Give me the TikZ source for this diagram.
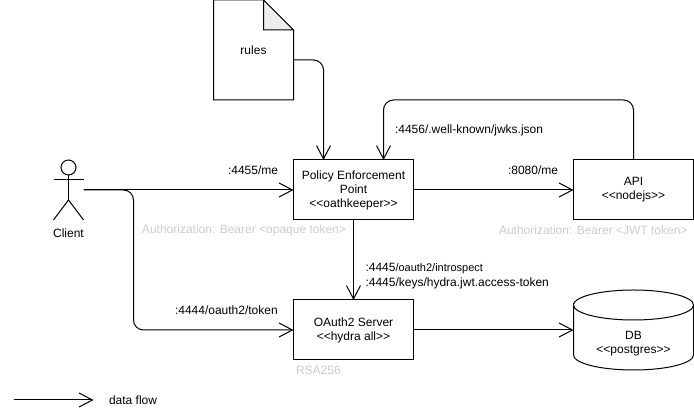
\documentclass[tikz,border=0pt]{standalone}
\usepackage{fontspec}
\setmainfont{Liberation Sans}
\usetikzlibrary{arrows.meta}
\definecolor{faint}{HTML}{CCCCCC}
\definecolor{foldfill}{HTML}{EEEEEE}
\newcommand{\stereo}[1]{<{}<#1>{}>}
\tikzset{
  every node/.style={font=\fontsize{9}{10.5}\selectfont,inner sep=0pt,outer sep=0pt},
  box/.style={draw=black,line width=.75pt,minimum width=90pt,minimum height=45pt,align=center},
  flow/.style={draw=black,line width=.75pt,rounded corners=7.5pt,-{Straight Barb[length=10pt,width=10.5pt,line width=.75pt]}},
  lbl/.style={anchor=west,text=black},
  hint/.style={anchor=west,text=faint},
  ln/.style={draw=black,line width=.75pt},
}
\begin{document}
\begin{tikzpicture}[x=.75pt,y=-.75pt]
\useasboundingbox (0,0) rectangle (694,416);
% nodes
\node[box] (pep) at (353.5,190) {Policy Enforcement\\Point\\\stereo{oathkeeper}};
\node[box] (api) at (633.5,190) {API\\\stereo{nodejs}};
\node[box] (oauth) at (353.5,330) {OAuth2 Server\\\stereo{hydra all}};
% database
\node[minimum width=90pt,minimum height=60pt] (db) at (633.5,330) {};
\draw[ln] (db.west |- 0,305) arc[x radius=45pt,y radius=11.25pt,start angle=180,end angle=0]
  arc[x radius=45pt,y radius=11.25pt,start angle=0,end angle=-180]
  -- (db.west |- 0,355) arc[x radius=45pt,y radius=11.25pt,start angle=180,end angle=360]
  -- (db.east |- 0,305);
\node (dblabel) at (633.5,344) [align=center] {DB\\\stereo{postgres}};
% document
\node[minimum width=60pt,minimum height=75pt] (rules) at (253.5,50) {rules};
\draw[ln,line join=miter] (rules.north west) -- (263.5,0) -- (rules.east |- 0,30) -- (rules.south east) -- (rules.south west) -- cycle;
\draw[ln,fill=foldfill,line join=miter] (263.5,0) -- (293.5,30) -- (263.5,30) -- cycle;
% actor
\node (client) at (68.5,233) {Client};
\node[circle,draw=black,line width=.75pt,minimum size=11.25pt] (head) at (68.5,167.5) {};
\coordinate (handL) at (53.5,180);
\coordinate (handR) at (83.5,180);
\coordinate (hip) at (68.5,200);
\coordinate (footL) at (53.5,220);
\coordinate (footR) at (83.5,220);
\coordinate (src) at (83.5,190);
\draw[ln] (head.south) -- (hip);
\draw[ln] (handL) -- (handR);
\draw[ln] (footL) -- (hip) -- (footR);
% connectors
\draw[flow] (src) -- (pep.west);
\draw[flow] (src) -- (133.5,190) -- (133.5,330) -- (oauth.west);
\draw[flow] (293.5,60) -- (323.5,60) -- (323.5,160);
\draw[flow] (pep.east) -- (api.west);
\draw[flow] (633.5,160) -- (633.5,100) -- (383.5,100) -- (383.5,160);
\draw[flow] (353.5,220) -- (oauth.north);
\draw[flow] (oauth.east) -- (db.west);
% legend
\coordinate (legA) at (13.5,400);
\coordinate (legB) at (93.5,400);
\draw[flow] (legA) -- (legB);
\node[lbl] (legtext) at (109,400) {data flow};
% labels
\node[lbl] (l1) at (228,170.5) {:4455/me};
\node[lbl] (l2) at (175,310.5) {:4444/oauth2/token};
\node[lbl] (l3) at (395,130.5) {:4456/.well-known/jwks.json};
\node[lbl] (l4) at (508,170.5) {:8080/me};
\node[lbl] (l5) at (365.5,269) {\fontsize{9}{10.5}\selectfont :4445\fontsize{8.25}{10.5}\selectfont /oauth2/introspect};
\node[lbl] (l6) at (365.5,283) {:4445/keys/hydra.jwt.access-token};
\node[hint] (h1) at (142,230.5) {Authorization: Bearer <opaque token>};
\node[hint] (h2) at (499,230.5) {Authorization: Bearer <JWT token>};
\node[hint] (h3) at (296,370.5) {RSA256};
\end{tikzpicture}
\end{document}
